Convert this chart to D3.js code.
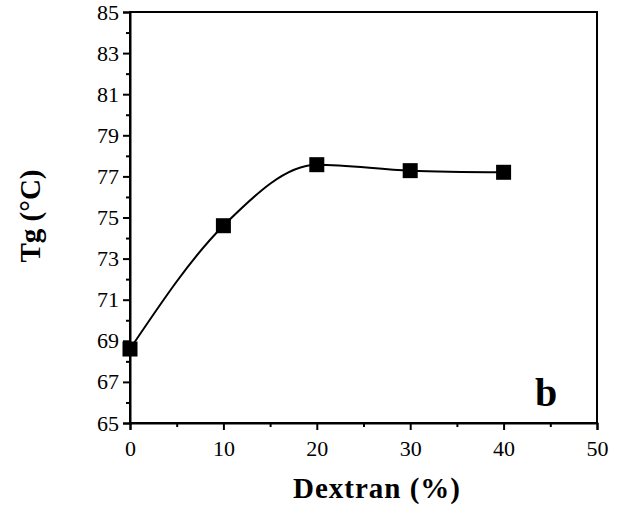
<!DOCTYPE html>
<html>
<head>
<meta charset="utf-8">
<script src="https://cdn.jsdelivr.net/npm/d3@7"></script>
<style>
  body { margin: 0; background: #fff; }
  svg text { font-family: "Liberation Serif", "Times New Roman", serif; fill: #000; }
</style>
</head>
<body>
<svg id="chart" width="620" height="508"></svg>
<script>
// values
const dextran = [0, 10, 20, 30, 40];
const tg = [68.6, 74.6, 77.57, 77.28, 77.2];
const xTicks = [0, 10, 20, 30, 40, 50];
const xMinor = [5, 15, 25, 35, 45];
const yTicks = [65, 67, 69, 71, 73, 75, 77, 79, 81, 83, 85];
const yMinor = [66, 68, 70, 72, 74, 76, 78, 80, 82, 84];

const margin = { top: 12, right: 23, bottom: 85, left: 130 };
const svg = d3.select('#chart');
const width = 620 - margin.left - margin.right;
const height = 508 - margin.top - margin.bottom;

const g = svg.append('g')
    .attr('transform', `translate(${margin.left},${margin.top})`);

const x = d3.scaleLinear().domain([0, 50]).range([0, width]);
const y = d3.scaleLinear().domain([65, 85]).range([height, 0]);

// frame
g.append('rect')
    .attr('width', width).attr('height', height)
    .attr('fill', 'none').attr('stroke', '#000').attr('stroke-width', 2);

// axes
g.append('g')
    .attr('transform', `translate(0,${height})`)
    .call(d3.axisBottom(x).tickValues(xTicks).tickSize(7).tickPadding(10));
g.append('g')
    .attr('transform', `translate(0,${height})`)
    .call(d3.axisBottom(x).tickValues(xMinor).tickSize(4).tickFormat(''))
    .call(a => a.select('.domain').remove());

g.append('g')
    .call(d3.axisLeft(y).tickValues(yTicks).tickSize(7).tickPadding(4));
g.append('g')
    .call(d3.axisLeft(y).tickValues(yMinor).tickSize(4).tickFormat(''))
    .call(a => a.select('.domain').remove());

g.selectAll('.domain').attr('stroke-width', 2);
g.selectAll('.tick line').attr('stroke-width', 2);
g.selectAll('.tick text')
    .style('font-family', '"Liberation Serif", "Times New Roman", serif')
    .style('font-size', '22px');

// curve
const line = d3.line()
    .x((d, i) => x(dextran[i]))
    .y(d => y(d))
    .curve(d3.curveMonotoneX);

g.append('path')
    .datum(tg)
    .attr('d', line)
    .attr('fill', 'none')
    .attr('stroke', '#000')
    .attr('stroke-width', 2);

// markers
const s = 15;
g.selectAll('.pt')
    .data(tg)
    .join('rect')
    .attr('class', 'pt')
    .attr('x', (d, i) => x(dextran[i]) - s / 2)
    .attr('y', d => y(d) - s / 2)
    .attr('width', s).attr('height', s)
    .attr('fill', '#000');

// labels
svg.append('text')
    .attr('transform', 'translate(40,216) rotate(-90)')
    .attr('text-anchor', 'middle')
    .attr('font-weight', 'bold')
    .attr('font-size', 29)
    .text('Tg (°C)');

svg.append('text')
    .attr('x', 377).attr('y', 498)
    .attr('text-anchor', 'middle')
    .attr('font-weight', 'bold')
    .attr('font-size', 29)
    .attr('letter-spacing', 1)
    .text('Dextran (%)');

svg.append('text')
    .attr('x', 546).attr('y', 406)
    .attr('text-anchor', 'middle')
    .attr('font-weight', 'bold')
    .attr('font-size', 40)
    .text('b');
</script>
</body>
</html>
